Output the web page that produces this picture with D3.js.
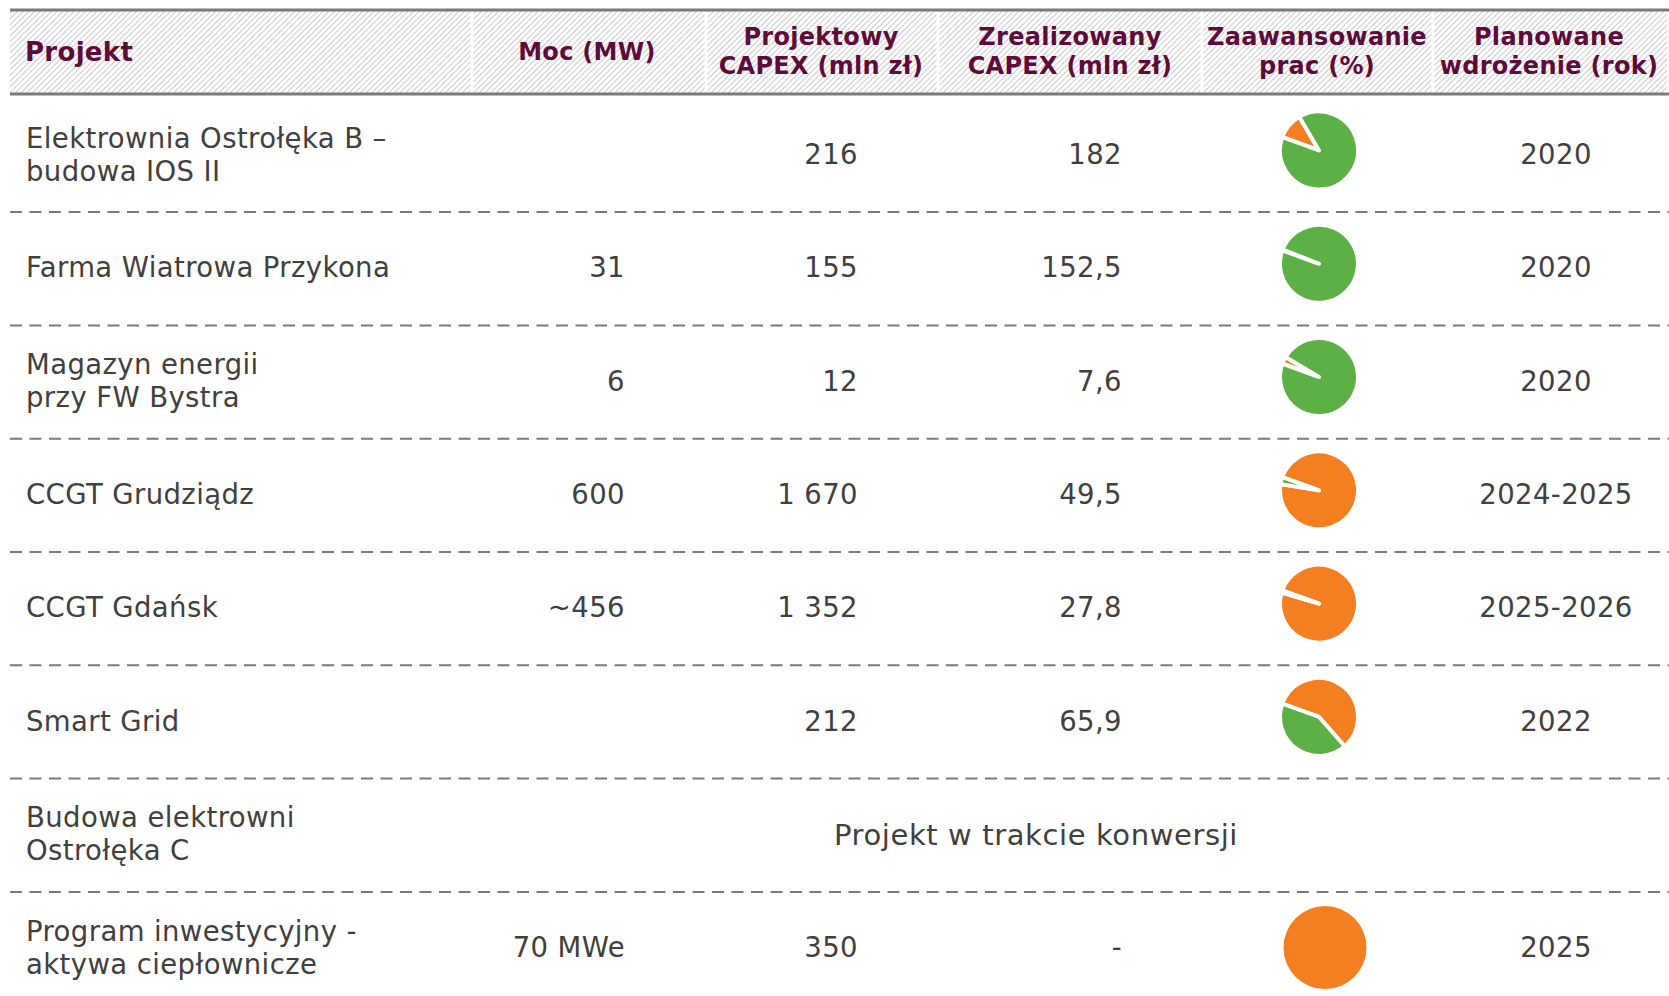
<!DOCTYPE html>
<html>
<head>
<meta charset="utf-8">
<title>Projekty inwestycyjne</title>
<script src="https://cdn.jsdelivr.net/npm/d3@7"></script>
<style>
  html, body { margin: 0; padding: 0; background: #fff; }
  svg { display: block; }
  text { font-family: "DejaVu Sans", Verdana, sans-serif; }
</style>
</head>
<body>
<script>
const projects = [
  ["Elektrownia Ostrołęka B –", "budowa IOS II"],
  ["Farma Wiatrowa Przykona"],
  ["Magazyn energii", "przy FW Bystra"],
  ["CCGT Grudziądz"],
  ["CCGT Gdańsk"],
  ["Smart Grid"],
  ["Budowa elektrowni", "Ostrołęka C"],
  ["Program inwestycyjny -", "aktywa ciepłownicze"]
];
const power = ["", "31", "6", "600", "~456", "", "", "70 MWe"];
const capexPlanned = ["216", "155", "12", "1 670", "1 352", "212", "", "350"];
const capexRealized = ["182", "152,5", "7,6", "49,5", "27,8", "65,9", "", "-"];
// share of work done (%), green part of the pie
const progress = [89, 99.6, 97, 3, 1, 42, null, 0];
const years = ["2020", "2020", "2020", "2024-2025", "2025-2026", "2022", "", "2025"];
const notes = ["", "", "", "", "", "", "Projekt w trakcie konwersji", ""];

const headers = [
  ["Projekt"],
  ["Moc (MW)"],
  ["Projektowy", "CAPEX (mln zł)"],
  ["Zrealizowany", "CAPEX (mln zł)"],
  ["Zaawansowanie", "prac (%)"],
  ["Planowane", "wdrożenie (rok)"]
];

const W = 1669, H = 996;
const green = "#5cb045", orange = "#f47f20";
const headColor = "#5e0b3b", textColor = "#404040", lineColor = "#7a7a7a";

const svg = d3.select("body").append("svg")
  .attr("width", W).attr("height", H);

// hatch for the header
const defs = svg.append("defs");
defs.append("pattern")
  .attr("id", "hatch")
  .attr("patternUnits", "userSpaceOnUse")
  .attr("width", 4).attr("height", 4)
  .attr("patternTransform", "rotate(45)")
  .append("line")
  .attr("x1", 0).attr("y1", 0).attr("x2", 0).attr("y2", 4)
  .attr("stroke", "#bcbcbc").attr("stroke-width", 1.6);

// header cells (column edges)
const headEdges = [10, 472, 706, 938, 1202, 1433, 1669];
const headCenters = [null, 587, 821, 1070, 1317, 1549];

const head = svg.append("g");
head.selectAll("rect.cell")
  .data(d3.range(headers.length))
  .join("rect")
  .attr("class", "cell")
  .attr("x", i => headEdges[i] + (i ? 1.5 : 0))
  .attr("y", 11)
  .attr("width", i => headEdges[i + 1] - headEdges[i] - (i ? 1.5 : 0) - 1.5)
  .attr("height", 82)
  .attr("fill", "url(#hatch)");

head.append("line")
  .attr("x1", 10).attr("x2", W).attr("y1", 10).attr("y2", 10)
  .attr("stroke", lineColor).attr("stroke-width", 3);
head.append("line")
  .attr("x1", 10).attr("x2", W).attr("y1", 94).attr("y2", 94)
  .attr("stroke", lineColor).attr("stroke-width", 3);

headers.forEach((lines, i) => {
  const t = head.append("text")
    .attr("fill", headColor)
    .attr("font-weight", "bold")
    .attr("font-size", i === 0 ? 26 : 24)
    .attr("letter-spacing", 0.3)
    .attr("text-anchor", i === 0 ? "start" : "middle")
    .attr("x", i === 0 ? 25 : headCenters[i]);
  const y0 = lines.length === 1 ? 52 : 37;
  lines.forEach((s, k) => {
    t.append("tspan")
      .attr("x", i === 0 ? 25 : headCenters[i])
      .attr("y", y0 + k * 29)
      .attr("dy", "0.35em")
      .text(s);
  });
});

// rows
const y = d3.scaleBand()
  .domain(d3.range(projects.length))
  .range([98.8, 98.8 + 8 * 113.3]);
const mid = i => y(i) + y.bandwidth() / 2;

const body = svg.append("g");

// dashed separators
body.selectAll("line.sep")
  .data(d3.range(1, projects.length))
  .join("line")
  .attr("class", "sep")
  .attr("x1", 10).attr("x2", W)
  .attr("y1", i => y(i)).attr("y2", i => y(i))
  .attr("stroke", lineColor)
  .attr("stroke-width", 2)
  .attr("stroke-dasharray", "12 7.5");

const fs = 27.5;
const txt = (g) => g.attr("fill", textColor).attr("font-size", fs).attr("letter-spacing", 0.4);

// project names
projects.forEach((lines, i) => {
  const t = body.append("text").call(txt).attr("x", 26);
  const y0 = mid(i) - 1 - (lines.length - 1) * 16.5;
  lines.forEach((s, k) => {
    t.append("tspan").attr("x", 26).attr("y", y0 + k * 33).attr("dy", "0.35em").text(s);
  });
});

const cols = [
  { data: power, x: 625, anchor: "end" },
  { data: capexPlanned, x: 858, anchor: "end" },
  { data: capexRealized, x: 1122, anchor: "end" },
  { data: years, x: 1556, anchor: "middle" }
];
cols.forEach(c => {
  body.append("g").selectAll("text")
    .data(c.data)
    .join("text")
    .call(txt)
    .attr("x", c.x)
    .attr("y", (d, i) => mid(i) - 1)
    .attr("dy", "0.35em")
    .attr("text-anchor", c.anchor)
    .text(d => d);
});

// spanning note
body.append("g").selectAll("text")
  .data(notes)
  .join("text")
  .call(txt)
  .attr("font-size", 29)
  .attr("letter-spacing", 0.6)
  .attr("x", 1036)
  .attr("y", (d, i) => mid(i))
  .attr("dy", "0.35em")
  .attr("text-anchor", "middle")
  .text(d => d);

// progress pies: remaining (orange) first, then done (green), clockwise from ~-70deg
const start = -70 * Math.PI / 180;
const pie = d3.pie().sort(null).value(d => d.v)
  .startAngle(start).endAngle(start + 2 * Math.PI);
const arc = d3.arc().innerRadius(0).outerRadius(39);

progress.forEach((p, i) => {
  if (p === null) return;
  const slices = pie([{ v: 100 - p, c: orange }, { v: p, c: green }])
    .filter(s => s.data.v > 0);
  const g = body.append("g");
  if (slices.length === 1) {
    // single full disc, drawn without gaps
    g.attr("transform", `translate(1325,${mid(i) - 1})`)
      .append("circle").attr("r", 41.5).attr("fill", slices[0].data.c);
    return;
  }
  g.attr("transform", `translate(1319,${mid(i) - 5})`);
  g.selectAll("path")
    .data(slices)
    .join("path")
    .attr("d", arc)
    .attr("fill", d => d.data.c)
    .attr("stroke", "#fff")
    .attr("stroke-width", 4)
    .attr("stroke-linejoin", "round");
});
</script>
</body>
</html>
